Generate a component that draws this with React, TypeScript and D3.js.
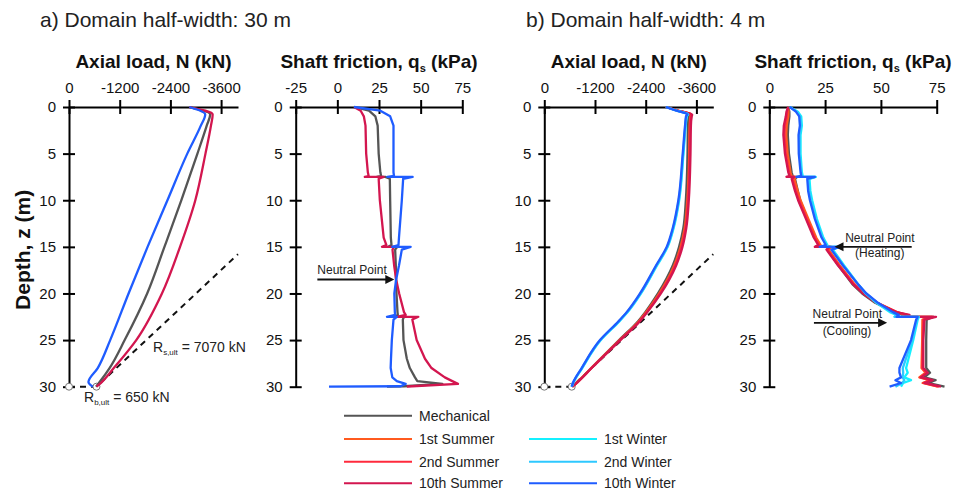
import React, { useRef, useEffect } from 'react';
import * as d3 from 'd3';

const seriesNames = ['Mechanical', '1st Summer', '2nd Summer', '10th Summer', '1st Winter', '2nd Winter', '10th Winter'];
const seriesColors = ['#555555', '#ff5a1f', '#ff2a3c', '#d3164f', '#14f0ff', '#2ec8ff', '#1f5cff'];

const depthTicks = [0, 5, 10, 15, 20, 25, 30];
const axialTicks = [0, -1200, -2400, -3600];
const shaftTicksA = [-25, 0, 25, 50, 75];
const shaftTicksB = [0, 25, 50, 75];

// bearing capacities (kN) and pile length (m) for the dashed line
const rbUlt = 650;
const rsUlt = 7070;
const pileLength = 30;

// a) half-width 30 m : axial load N (kN)
const depthAxialA = [0, 0.8, 2, 5, 10, 15, 20, 25, 28, 29.5, 30];
const axialA_mech = [-2850, -3341, -3260, -3040, -2660, -2259, -1850, -1318, -960, -725, -640];
const axialA_sum10 = [-2850, -3400, -3360, -3230, -2990, -2628, -2200, -1592, -1060, -775, -650];
const axialA_win10 = [-2850, -3224, -3120, -2800, -2330, -1860, -1410, -975, -680, -460, -560];

// a) shaft friction qs (kPa)
const depthShaftA = [0, 0.4, 1, 2, 5, 7, 7.4, 7.5, 7.5, 7.7, 10, 14, 14.8, 15, 15, 15.3, 17, 18.5, 20, 22, 22.3, 22.5, 22.5, 22.8, 25, 27, 28, 29, 29.4, 29.7, 29.95, 30];
const shaftA_mech = [10, 19, 22.8, 24.2, 24.8, 25.8, 26.3, 23.8, 28.8, 31.5, 31.7, 32.1, 32.5, 30.5, 36, 34.7, 35.1, 35.2, 35.5, 36.1, 36.3, 34.1, 40, 39.3, 39.7, 41.7, 43.5, 46.6, 48, 63, 40, 29.8];
const shaftA_sum10 = [10, 14, 15.9, 16.9, 17.3, 18.3, 18.8, 16.5, 27.8, 24.8, 25.5, 27.8, 29.4, 26.8, 34, 33.1, 34.1, 35.3, 37.1, 40, 41, 35.7, 48.6, 45, 47.6, 52.6, 56.5, 64.5, 69, 72.4, 45, 41.7];
const shaftA_win10 = [10, 25.8, 31.7, 33.7, 33.7, 33.7, 34, 30, 45.2, 39.5, 38.7, 37, 36.7, 33, 44, 38.7, 37, 35.3, 34.2, 34.5, 34.7, 29.8, 35.7, 33.7, 32.7, 32.2, 32, 33, 35.7, 41, 38, -5];

// b) half-width 4 m : axial load N (kN)
const depthAxialB = [0, 0.4, 0.8, 1, 2, 5, 10, 13, 15, 17, 20, 22, 23, 25, 28, 29.5, 30];
const axialB_mech = [-2880, -3160, -3440, -3420, -3400, -3390, -3350, -3290, -3190, -3040, -2690, -2390, -2215, -1770, -1110, -780, -658];
const axialB_sum1 = [-2880, -3170, -3470, -3460, -3440, -3430, -3385, -3322, -3225, -3075, -2720, -2410, -2235, -1782, -1115, -786, -660];
const axialB_sum2 = [-2880, -3175, -3480, -3470, -3450, -3440, -3400, -3340, -3245, -3095, -2740, -2425, -2245, -1790, -1118, -788, -660];
const axialB_sum10 = [-2880, -3180, -3500, -3490, -3470, -3460, -3420, -3360, -3270, -3120, -2760, -2440, -2260, -1800, -1121, -790, -660];
const axialB_win1 = [-2880, -3140, -3405, -3372, -3348, -3294, -3192, -3060, -2920, -2668, -2290, -1975, -1775, -1338, -898, -695, -650];
const axialB_win2 = [-2880, -3135, -3396, -3364, -3340, -3286, -3184, -3050, -2910, -2657, -2278, -1963, -1764, -1328, -891, -691, -648];
const axialB_win10 = [-2880, -3130, -3386, -3354, -3331, -3276, -3173, -3039, -2897, -2644, -2265, -1950, -1752, -1318, -884, -687, -647];

// b) shaft friction qs (kPa)
const depthShaftB = [0, 0.5, 1, 2, 3, 5, 7, 7.4, 7.5, 7.5, 7.7, 9, 10, 12, 14, 14.8, 15, 15, 15.3, 17, 19, 20, 21, 22, 22.3, 22.5, 22.5, 22.8, 25, 28, 28.5, 29, 29.3, 29.6, 30];
const shaftB_mech = [8.5, 9, 9, 8.5, 8.3, 8.8, 10, 10.5, 9.2, 12.5, 11.5, 12.8, 13.8, 17, 20.4, 22.4, 21, 27.5, 26.2, 31, 37.2, 41.6, 47.4, 56, 60.5, 59, 73.5, 70.5, 70.3, 70.3, 72, 69.5, 74.5, 71, 78.5];
const shaftB_sum1 = [8.5, 8.6, 8.5, 7.8, 7.6, 8.2, 9.5, 10, 8.7, 12, 11.2, 12.7, 14, 17.5, 21, 23, 21.5, 28, 26.6, 31.6, 38.2, 42.6, 48.4, 57, 61.2, 59.4, 72.8, 68.6, 68.5, 68.2, 70, 67.2, 72, 68.7, 75.5];
const shaftB_sum2 = [8.5, 8, 7.8, 7, 6.8, 7.4, 8.8, 9.3, 8, 11.3, 10.4, 11.9, 13.3, 16.8, 20.3, 22.3, 20.8, 27.3, 26, 31.2, 37.9, 42.4, 48.3, 57.2, 62, 60, 73.5, 69, 68.8, 68.5, 70.5, 67.6, 72.5, 69, 76];
const shaftB_sum10 = [8.5, 7.7, 7.4, 6.5, 6.3, 7, 8.5, 9, 7.7, 11, 10, 11.5, 12.9, 16.4, 19.9, 21.9, 20.4, 27, 25.6, 30.8, 37.5, 42, 47.9, 56.8, 62.8, 60.6, 74.7, 69.5, 69, 69, 71, 68, 73.2, 69.5, 76.9];
const shaftB_win1 = [9.2, 12.8, 14.3, 14.6, 14, 14, 14.6, 15, 13, 20.8, 18, 18.4, 19.2, 21.3, 24.2, 26, 23.5, 31, 28.5, 33.5, 39.8, 43.2, 48, 54, 57, 56.2, 67, 66.5, 64.5, 61.3, 62, 60.5, 63.5, 60, 59];
const shaftB_win2 = [9.2, 12.3, 13.8, 14.2, 13.6, 13.6, 14.3, 14.6, 12.6, 20.6, 17.5, 17.9, 18.7, 20.8, 23.8, 25.6, 23, 31.2, 28.1, 33.2, 39.7, 43.3, 48.3, 54.7, 57.5, 56.1, 66.8, 66.2, 64, 59.8, 60, 59.7, 60.5, 59.5, 56.5];
const shaftB_win10 = [9.2, 11.9, 13.4, 13.7, 13.1, 13.2, 14, 14.3, 12.2, 20.4, 17, 17.4, 18.2, 20.4, 23.4, 25.3, 22.6, 31.5, 27.8, 33, 39.7, 43.5, 48.7, 55.4, 58, 57, 66.5, 65.8, 63.5, 58.3, 58.3, 59, 56.5, 59, 53.9];

const FONT = "'Liberation Sans', Arial, Helvetica, sans-serif";

const App = () => {
  const chartRef = useRef<SVGSVGElement>(null);

  useEffect(() => {
    const width = 957;
    const height = 491;

    const svg = d3.select(chartRef.current);
    svg.selectAll('*').remove();
    svg.attr('width', width).attr('height', height).attr('font-family', FONT);

    const y = d3.scaleLinear().domain([0, 30]).range([107, 386.7]);

    const xAxialA = d3.scaleLinear().domain([0, -4000]).range([69, 238]);
    const xShaftA = d3.scaleLinear().domain([-25, 75]).range([295.7, 462.3]);
    const xAxialB = d3.scaleLinear().domain([0, -4000]).range([544.3, 713.3]);
    const xShaftB = d3.scaleLinear().domain([0, 75]).range([769.3, 936.7]);

    const drawAxes = (x: any, ticks: number[], title: string, sub?: string) => {
      const g = svg.append('g');
      const top = g.append('g')
        .attr('transform', `translate(0,${y(0)})`)
        .call(d3.axisTop(x).tickValues(ticks).tickSizeInner(7).tickSizeOuter(0).tickPadding(7)
          .tickFormat((d: any) => String(d)));
      top.attr('font-family', FONT).attr('font-size', 15);
      top.select('.domain').attr('stroke', '#000').attr('stroke-width', 2);
      top.selectAll('.tick line').attr('y1', 7).attr('stroke', '#000').attr('stroke-width', 2);
      top.selectAll('.tick text').attr('fill', '#111');

      const left = g.append('g')
        .attr('transform', `translate(${x.range()[0]},0)`)
        .call(d3.axisLeft(y).tickValues(depthTicks).tickSizeInner(6).tickSizeOuter(0).tickPadding(7)
          .tickFormat((d: any) => String(d)));
      left.attr('font-family', FONT).attr('font-size', 15);
      left.select('.domain').attr('stroke', '#000').attr('stroke-width', 2);
      left.selectAll('.tick line').attr('x1', 6).attr('stroke', '#000').attr('stroke-width', 2);
      left.selectAll('.tick text').attr('fill', '#111');

      const [r0, r1] = x.range();
      const t = g.append('text')
        .attr('x', (r0 + r1) / 2)
        .attr('y', 68)
        .attr('text-anchor', 'middle')
        .attr('font-size', 19)
        .attr('font-weight', 'bold')
        .attr('fill', '#111')
        .text(title);
      if (sub) {
        t.append('tspan').attr('font-size', 11).attr('dy', 4).text(sub);
        t.append('tspan').attr('dy', -4).text(' (kPa)');
      }
    };

    drawAxes(xAxialA, axialTicks, 'Axial load, N (kN)');
    drawAxes(xShaftA, shaftTicksA, 'Shaft friction, q', 's');
    drawAxes(xAxialB, axialTicks, 'Axial load, N (kN)');
    drawAxes(xShaftB, shaftTicksB, 'Shaft friction, q', 's');

    // panel titles
    svg.append('text').attr('x', 40).attr('y', 27).attr('font-size', 21).attr('fill', '#222')
      .text('a) Domain half-width: 30 m');
    svg.append('text').attr('x', 526).attr('y', 27).attr('font-size', 21).attr('fill', '#222')
      .text('b) Domain half-width: 4 m');

    // depth label
    svg.append('text')
      .attr('transform', `translate(30,${(y(0) + y(30)) / 2 + 3}) rotate(-90)`)
      .attr('text-anchor', 'middle')
      .attr('font-size', 21)
      .attr('font-weight', 'bold')
      .attr('fill', '#111')
      .text('Depth, z (m)');

    // ultimate capacity line (dashed) and base/tip markers
    const zAtLimit = pileLength - ((4000 - rbUlt) / rsUlt) * pileLength;
    const capN = [0, -rbUlt, -4000];
    const capZ = [pileLength, pileLength, zAtLimit];
    [xAxialA, xAxialB].forEach(x => {
      const capLine = d3.line<number>().x(d => x(d)).y((d, i) => y(capZ[i]));
      svg.append('path')
        .attr('d', capLine(capN))
        .attr('fill', 'none')
        .attr('stroke', '#111')
        .attr('stroke-width', 2)
        .attr('stroke-dasharray', '6,5');
      svg.selectAll(null)
        .data([0, -rbUlt])
        .join('circle')
        .attr('cx', d => x(d))
        .attr('cy', y(pileLength))
        .attr('r', 3.5)
        .attr('fill', '#fff')
        .attr('stroke', '#777')
        .attr('stroke-width', 1);
    });

    const drawSeries = (x: any, depths: number[], list: [number, number[]][], curve: any) => {
      const line = d3.line<number>().x(d => x(d)).y((d, i) => y(depths[i])).curve(curve);
      list.forEach(([k, vals]) => {
        svg.append('path')
          .attr('d', line(vals))
          .attr('fill', 'none')
          .attr('stroke', seriesColors[k])
          .attr('stroke-width', 2.3)
          .attr('stroke-linejoin', 'round');
      });
    };

    drawSeries(xAxialA, depthAxialA, [[0, axialA_mech], [3, axialA_sum10], [6, axialA_win10]], d3.curveMonotoneY);
    drawSeries(xShaftA, depthShaftA, [[0, shaftA_mech], [3, shaftA_sum10], [6, shaftA_win10]], d3.curveLinear);
    drawSeries(xAxialB, depthAxialB, [
      [0, axialB_mech], [1, axialB_sum1], [2, axialB_sum2], [3, axialB_sum10],
      [4, axialB_win1], [5, axialB_win2], [6, axialB_win10],
    ], d3.curveMonotoneY);
    drawSeries(xShaftB, depthShaftB, [
      [0, shaftB_mech], [1, shaftB_sum1], [2, shaftB_sum2], [3, shaftB_sum10],
      [4, shaftB_win1], [5, shaftB_win2], [6, shaftB_win10],
    ], d3.curveLinear);

    // capacity labels
    const rLabel = (px: number, py: number, sub: string, rest: string) => {
      const t = svg.append('text').attr('x', px).attr('y', py).attr('font-size', 14).attr('fill', '#222');
      t.append('tspan').text('R');
      t.append('tspan').attr('font-size', 8).attr('dy', 3).text(sub);
      t.append('tspan').attr('dy', -3).text(rest);
    };
    rLabel(153, 352, 's,ult', ' = 7070 kN');
    rLabel(84, 402, 'b,ult', ' = 650 kN');

    // neutral point annotations
    const arrow = (x0: number, x1: number, yy: number) => {
      const dir = Math.sign(x1 - x0);
      svg.append('line')
        .attr('x1', x0).attr('x2', x1 - dir * 6)
        .attr('y1', yy).attr('y2', yy)
        .attr('stroke', '#111').attr('stroke-width', 1.8);
      svg.append('path')
        .attr('d', `M${x1},${yy}L${x1 - dir * 9},${yy - 4.5}L${x1 - dir * 9},${yy + 4.5}Z`)
        .attr('fill', '#111');
    };
    const note = (px: number, py: number, text: string, anchor = 'start') =>
      svg.append('text').attr('x', px).attr('y', py).attr('font-size', 12)
        .attr('text-anchor', anchor).attr('fill', '#222').text(text);

    note(xShaftA(-12), y(17.9), 'Neutral Point');
    arrow(xShaftA(-12), xShaftA(34.2), y(18.5));

    note(xShaftB(34), y(14.45), 'Neutral Point');
    note(xShaftB(49.5), y(16.1), '(Heating)', 'middle');
    arrow(xShaftB(63.8), xShaftB(29.2), y(15));

    note(xShaftB(19.4), y(22.6), 'Neutral Point');
    note(xShaftB(34.8), y(24.5), '(Cooling)', 'middle');
    arrow(xShaftB(20), xShaftB(52.8), y(23.15));

    // legend
    const legendRows = [415.7, 439, 461.7, 483.3];
    const legendItems = seriesNames.map((name, i) => ({
      name,
      color: seriesColors[i],
      col: i >= 4 ? 1 : 0,
      row: i === 0 ? 0 : i >= 4 ? i - 3 : i,
    }));
    const lg = svg.append('g');
    legendItems.forEach(d => {
      const lx = d.col === 0 ? 344 : 529;
      const ly = legendRows[d.row];
      lg.append('line')
        .attr('x1', lx).attr('x2', lx + 68)
        .attr('y1', ly).attr('y2', ly)
        .attr('stroke', d.color).attr('stroke-width', 2);
      lg.append('text')
        .attr('x', lx + 75).attr('y', ly + 5)
        .attr('font-size', 14).attr('fill', '#222')
        .text(d.name);
    });
  }, []);

  return (
    <svg ref={chartRef} style={{ position: 'absolute', left: 0, top: 0, background: '#fff' }}></svg>
  );
};

export default App;
